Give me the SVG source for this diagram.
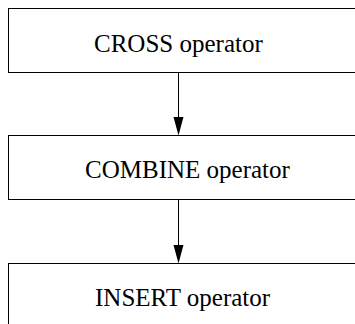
<svg xmlns="http://www.w3.org/2000/svg" width="355" height="324" viewBox="0 0 355 324">
<style>
.box{fill:#fff;stroke:#000;stroke-width:1}
.lbl{font-family:"Liberation Serif","Times New Roman",serif;font-size:25px;fill:#000}
.edge{stroke:#000;stroke-width:1;fill:none}
</style>
<defs>
<marker id="ah" markerWidth="10" markerHeight="18" refX="5" refY="18" orient="auto-start-reverse" markerUnits="userSpaceOnUse" viewBox="0 0 10 18">
<path d="M0,0 L10,0 L5,18 Z" fill="#000"/>
</marker>
</defs>
<rect width="355" height="324" fill="#fff"/>
<g id="connectors">
<line class="edge" x1="178.5" y1="72.5" x2="178.5" y2="117"/>
<polygon points="173.5,117 183.5,117 178.5,135.5" fill="#000"/>
<line class="edge" x1="178.5" y1="199.5" x2="178.5" y2="245"/>
<polygon points="173.5,245 183.5,245 178.5,263.5" fill="#000"/>
</g>
<g id="cross">
<rect class="box" x="8.5" y="8.5" width="360" height="64"/>
<text class="lbl" x="94" y="51.5">CROSS operator</text>
</g>
<g id="combine">
<rect class="box" x="8.5" y="135.5" width="360" height="64"/>
<text class="lbl" x="85" y="177.5">COMBINE operator</text>
</g>
<g id="insert">
<rect class="box" x="8.5" y="263.5" width="360" height="64"/>
<text class="lbl" x="95" y="306">INSERT operator</text>
</g>
</svg>
